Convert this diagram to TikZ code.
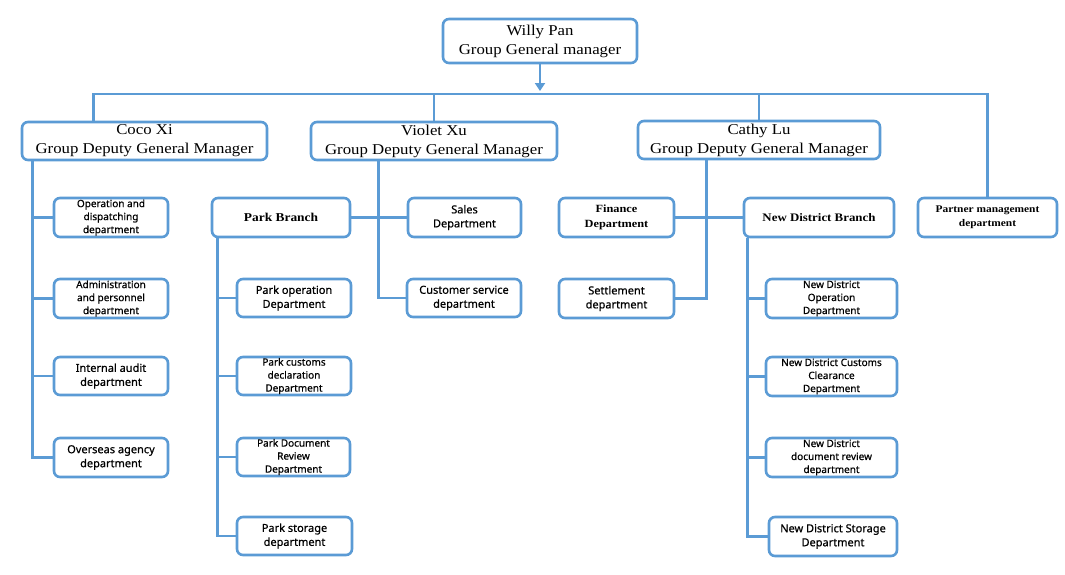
\documentclass[tikz,border=0pt]{standalone}
\usepackage{fontspec}
\setmainfont{Liberation Serif}
\newfontfamily\titlef[FakeStretch=1.12]{Liberation Serif}
\newfontfamily\deptf[FakeBold=0.6]{Noto Sans}
\usetikzlibrary{arrows.meta}
\definecolor{linec}{RGB}{91,155,213}
\tikzset{
  box/.style={draw=linec, line width=2.6pt, rounded corners=6pt, fill=white, align=center, inner sep=0pt},
  bigbox/.style={box, font=\titlef\fontsize{15}{19}\selectfont},
  bolddept/.style={box, font=\titlef\bfseries\fontsize{12}{15}\selectfont},
  dept/.style={box, font=\deptf\fontsize{11}{14}\selectfont},
  dept3/.style={box, font=\deptf\fontsize{10}{13}\selectfont},
  conn/.style={draw=linec, line width=2.6pt}
}
\begin{document}
\begin{tikzpicture}[x=1pt,y=-1pt]
\path[use as bounding box] (0,0) rectangle (1065,574);
% top
\node[bigbox, minimum width=194pt, minimum height=44pt] (willy) at (540,41) {Willy Pan\\Group General manager};
\node[bigbox, minimum width=245pt, minimum height=38pt] (coco) at (144.5,141) {Coco Xi\\Group Deputy General Manager};
\node[bigbox, minimum width=246pt, minimum height=38pt] (violet) at (434,141) {Violet Xu\\Group Deputy General Manager};
\node[bigbox, minimum width=242pt, minimum height=38pt] (cathy) at (759,140) {Cathy Lu\\Group Deputy General Manager};
\coordinate (bus) at (540,94);
\coordinate (arrowend) at (540,91);
% Coco children
\node[dept3, minimum width=114pt, minimum height=39pt] (opdisp) at (111,217.5) {Operation and\\dispatching\\department};
\node[dept3, minimum width=114pt, minimum height=39pt] (admin) at (111,298.5) {Administration\\and personnel\\department};
\node[dept, minimum width=114pt, minimum height=38pt] (audit) at (111,376) {Internal audit\\department};
\node[dept, minimum width=114pt, minimum height=39pt] (overseas) at (111,457.5) {Overseas agency\\department};
% Violet children
\node[bolddept, minimum width=138pt, minimum height=39pt] (park) at (281,217.5) {Park Branch};
\node[dept, minimum width=113pt, minimum height=39pt] (sales) at (464.5,217.5) {Sales\\Department};
\node[dept, minimum width=114pt, minimum height=38pt] (custsvc) at (464,298) {Customer service\\department};
\node[dept, minimum width=114pt, minimum height=38pt] (pop) at (294,298) {Park operation\\Department};
\node[dept3, minimum width=114pt, minimum height=38pt] (pcust) at (294,376) {Park customs\\declaration\\Department};
\node[dept3, minimum width=113pt, minimum height=38pt] (pdoc) at (293.5,457) {Park Document\\Review\\Department};
\node[dept, minimum width=115pt, minimum height=38pt] (pstor) at (294.5,536) {Park storage\\department};
% Cathy children
\node[bolddept, font=\titlef\bfseries\fontsize{11}{15}\selectfont, minimum width=115pt, minimum height=39pt] (finance) at (616.5,217.5) {Finance\\Department};
\node[dept, minimum width=115pt, minimum height=39pt] (settle) at (616.5,298.5) {Settlement\\department};
\node[bolddept, font=\titlef\bfseries\fontsize{11.5}{15}\selectfont, minimum width=150pt, minimum height=39pt] (ndb) at (819,217.5) {New District Branch};
\node[dept3, minimum width=131pt, minimum height=39pt] (ndop) at (831.5,298.5) {New District\\Operation\\Department};
\node[dept3, minimum width=131pt, minimum height=39pt] (ndcust) at (831.5,376.5) {New District Customs\\Clearance\\Department};
\node[dept3, minimum width=131pt, minimum height=39pt] (nddoc) at (831.5,457.5) {New District\\document review\\department};
\node[dept, minimum width=128pt, minimum height=39pt] (ndstor) at (833,536.5) {New District Storage\\Department};
\node[bolddept, font=\titlef\bfseries\fontsize{10.2}{14}\selectfont, minimum width=139pt, minimum height=39pt] (partner) at (987.5,217.5) {Partner management\\department};
% connectors
\draw[conn, -{Triangle[length=8pt,width=10pt]}] (willy) -- (arrowend);
\draw[conn] ([xshift=73pt]coco.north west) |- (bus) -| (partner);
\draw[conn] (violet) -- (violet |- bus);
\draw[conn] (cathy) -- (cathy |- bus);
% Coco
\draw[conn] ([xshift=12pt]coco.south west) |- (overseas);
\draw[conn] ([xshift=12pt]coco.south west) |- (opdisp);
\draw[conn] ([xshift=12pt]coco.south west) |- (admin);
\draw[conn] ([xshift=12pt]coco.south west) |- (audit);
% Violet
\draw[conn] (park) -- (sales);
\draw[conn] ([xshift=69pt]violet.south west) |- (custsvc);
\draw[conn] ([xshift=7pt]park.south west) |- (pstor);
\draw[conn] ([xshift=7pt]park.south west) |- (pop);
\draw[conn] ([xshift=7pt]park.south west) |- (pcust);
\draw[conn] ([xshift=7pt]park.south west) |- (pdoc);
% Cathy
\draw[conn] (finance) -- (ndb);
\draw[conn] ([xshift=70pt]cathy.south west) |- (settle);
\draw[conn] ([xshift=5pt]ndb.south west) |- (ndstor);
\draw[conn] ([xshift=5pt]ndb.south west) |- (ndop);
\draw[conn] ([xshift=5pt]ndb.south west) |- (ndcust);
\draw[conn] ([xshift=5pt]ndb.south west) |- (nddoc);
\end{tikzpicture}
\end{document}
